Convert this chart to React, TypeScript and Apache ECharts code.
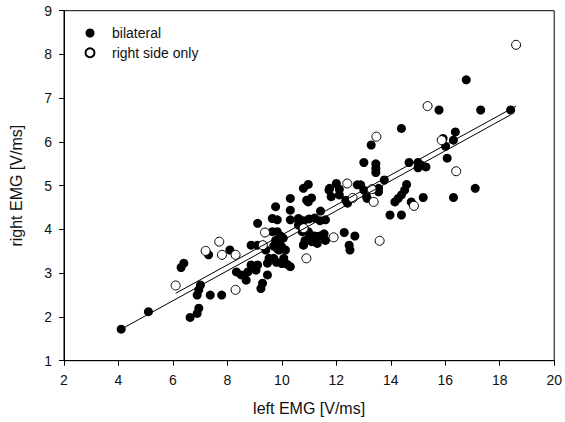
import React, { useEffect, useRef } from "react";
import * as echarts from "echarts";

// left EMG [V/ms], right EMG [V/ms]
const bilateralX = [
  4.1, 5.1, 6.3, 6.4, 6.63, 6.89, 6.95, 6.89, 6.95, 7.01, 7.37, 7.79, 7.31, 8.09, 8.33,
  8.51, 8.69, 8.75, 8.87, 9.11, 9.05, 8.87, 9.11, 9.41, 9.47, 9.29, 9.23, 9.11, 9.53, 9.47,
  9.65, 9.83, 9.95, 9.77, 9.9, 9.7, 9.85, 10.0, 10.05, 9.89,
  9.7, 10.07, 9.8, 10.0, 10.2, 10.31,
  9.65, 9.83, 10.31, 10.61, 9.77, 10.31, 10.31, 10.91, 10.61, 10.97, 10.79,
  10.97, 10.79, 11.09, 10.97, 11.42,
  10.6, 10.8, 11.0, 11.2, 11.4, 11.6,
  10.75, 11.0, 11.2, 11.4, 10.85, 11.1, 10.8, 11.3, 11.55, 11.6, 10.13,
  12.29, 12.68, 12.47, 12.5,
  12.0, 11.75, 12.11, 11.81, 12.11, 12.35, 12.41, 12.77, 13.01, 13.13, 12.89, 13.11, 11.73,
  13.01, 13.28, 13.45, 13.45, 13.45, 13.76, 13.55, 13.55,
  14.39, 14.67, 15.0, 15.12, 15.29, 15.0,
  14.58, 14.51, 14.39, 14.27, 14.15, 14.75, 13.97, 14.39,
  15.19, 15.77, 15.92, 16.01, 16.07, 16.37, 16.3, 16.3, 16.77, 17.1, 17.3, 18.4,
];
const bilateralY = [
  1.72, 2.12, 3.13, 3.23, 1.99, 2.08, 2.2, 2.5, 2.62, 2.73, 2.5, 2.5, 3.42, 3.53, 3.03,
  2.96, 2.84, 3.03, 3.19, 3.19, 3.07, 3.64, 3.64, 3.53, 2.96, 2.77, 2.65, 4.14, 3.34, 3.23,
  3.95, 3.95, 3.85, 3.75, 3.7, 3.62, 3.55, 3.6, 3.8, 3.53,
  3.34, 3.34, 3.25, 3.22, 3.2, 3.15,
  4.25, 4.22, 4.22, 4.25, 4.52, 4.44, 4.71, 4.67, 4.1, 3.95, 3.64,
  5.03, 4.94, 4.72, 4.63, 4.42,
  4.22, 4.2, 4.24, 4.26, 4.2, 4.22,
  3.95, 3.9, 3.85, 3.85, 3.75, 3.72, 3.65, 3.68, 3.9, 3.75, 3.53,
  3.93, 3.85, 3.64, 3.53,
  5.05, 4.94, 4.92, 4.75, 4.79, 4.67, 4.6, 5.02, 4.9, 4.71, 5.02, 4.75, 4.9,
  5.53, 5.93, 5.5, 5.4, 5.3, 5.13, 4.94, 4.86,
  6.31, 5.53, 5.53, 5.47, 5.43, 5.41,
  5.03, 4.9, 4.79, 4.71, 4.63, 4.63, 4.33, 4.33,
  4.73, 6.73, 6.08, 5.9, 5.63, 6.23, 6.04, 4.73, 7.42, 4.94, 6.73, 6.73,
];
const rightOnlyX = [
  6.1, 7.2, 7.7, 7.8, 8.3, 8.3, 9.3, 9.38, 10.8, 10.9, 11.9, 12.4, 12.6, 13.3, 13.37,
  13.47, 13.59, 14.85, 15.35, 15.87, 16.4, 18.6,
];
const rightOnlyY = [
  2.72, 3.51, 3.72, 3.42, 3.42, 2.62, 3.64, 3.93, 4.03, 3.34, 3.82, 5.05, 4.72, 4.92, 4.63,
  6.12, 3.74, 4.54, 6.82, 6.04, 5.33, 8.22,
];
// regression lines: [x, y] end points
const bilateralFit = [
  [4.1, 1.72],
  [18.4, 6.62],
];
const rightOnlyFit = [
  [6.1, 2.54],
  [18.6, 6.82],
];
const xTicks = { min: 2, max: 20, interval: 2 };
const yTicks = { min: 1, max: 9, interval: 1 };

const FONT = "'Liberation Sans', Arial, Helvetica, sans-serif";

export default function App() {
  const ref = useRef<HTMLDivElement>(null);
  useEffect(() => {
    document.body.style.margin = "0";
    if (!ref.current) return;
    const chart = echarts.init(ref.current, undefined, { renderer: "svg" });
    const axisCommon = {
      splitLine: { show: false },
      axisLine: { show: true, onZero: false, lineStyle: { color: "#000", width: 1 } },
      axisTick: { show: true, inside: false, length: 5, lineStyle: { color: "#000", width: 1 } },
      axisLabel: { color: "#111", fontSize: 14, fontFamily: FONT, margin: 12 },
      nameLocation: "middle" as const,
      nameTextStyle: { color: "#111", fontSize: 16, fontFamily: FONT },
    };
    chart.setOption({
      animation: false,
      backgroundColor: "#fff",
      textStyle: { fontFamily: FONT },
      grid: {
        left: 57.5,
        right: 7.7,
        top: 10.7,
        bottom: 61.3,
        show: true,
        borderColor: "#000",
        borderWidth: 1,
        containLabel: false,
      },
      legend: {
        data: [
          { name: "bilateral", icon: "circle" },
          { name: "right side only", icon: "circle" },
        ],
        orient: "vertical",
        left: 79.5,
        top: 21,
        itemWidth: 34,
        itemHeight: 9,
        itemGap: 5.8,
        textStyle: { color: "#111", fontSize: 14, fontFamily: FONT, lineHeight: 14 },
        selectedMode: false,
      },
      xAxis: {
        type: "value",
        ...xTicks,
        ...axisCommon,
        name: "left EMG [V/ms]",
        nameGap: 40,
      },
      yAxis: {
        type: "value",
        ...yTicks,
        ...axisCommon,
        name: "right EMG [V/ms]",
        nameGap: 40,
      },
      series: [
        {
          name: "bilateral",
          type: "scatter",
          symbol: "circle",
          symbolSize: 9,
          itemStyle: { color: "#000", opacity: 1 },
          data: bilateralX.map((x, i) => [x, bilateralY[i]]),
          z: 2,
        },
        {
          name: "right side only",
          type: "scatter",
          symbol: "circle",
          symbolSize: 9,
          itemStyle: { color: "#fff", borderColor: "#000", borderWidth: 1, opacity: 1 },
          data: rightOnlyX.map((x, i) => [x, rightOnlyY[i]]),
          z: 3,
        },
        {
          name: "bilateral fit",
          type: "line",
          data: bilateralFit,
          symbol: "none",
          lineStyle: { color: "#000", width: 1 },
          z: 4,
        },
        {
          name: "right side only fit",
          type: "line",
          data: rightOnlyFit,
          symbol: "none",
          lineStyle: { color: "#000", width: 1 },
          z: 4,
        },
      ],
    });
    return () => chart.dispose();
  }, []);
  return <div ref={ref} style={{ width: 565, height: 422 }} />;
}
